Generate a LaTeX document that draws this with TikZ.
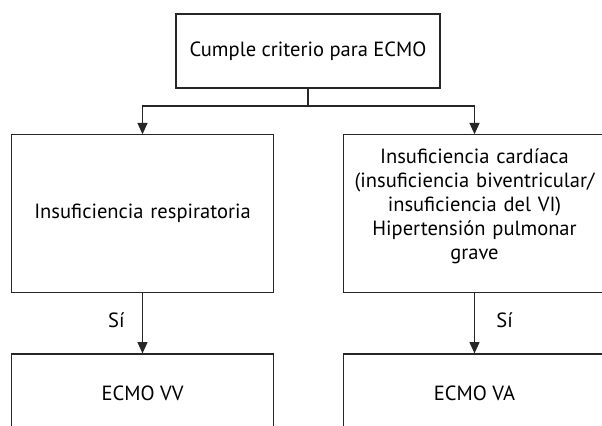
\documentclass[tikz,border=0pt]{standalone}
\usepackage{fontspec}
\setmainfont{PT Sans}
\usetikzlibrary{arrows.meta}
\begin{document}
\begin{tikzpicture}[x=0.75pt,y=-0.75pt,font=\fontsize{15.4pt}{18pt}\selectfont]
    \def\lx{142.5}
    \def\rx{474.5}
    \def\cx{308}

    \tikzstyle{box}=[draw=black!85,line width=0.9pt,inner sep=2pt,align=center]
    \tikzstyle{topbox}=[box,minimum width=198pt,minimum height=55.5pt]
    \tikzstyle{sidebox}=[box,text width=193pt,minimum width=197pt,minimum height=118pt]
    \tikzstyle{endbox}=[box,minimum width=197pt,minimum height=58.5pt]
    \tikzstyle{fwd}=[draw=black!85,line width=0.9pt]
    \tikzstyle{arr}=[fwd,-{Triangle[length=8.5pt,width=7.5pt]}]
    \tikzstyle{yes}=[inner sep=0pt]

    \useasboundingbox (0,0) rectangle (602,425);
    \clip (0,0) rectangle (602,425);

    \node[topbox] (crit) at (\cx,51) {Cumple criterio para ECMO};

    \node[sidebox] (resp) at (\lx,213.5) {Insuficiencia respiratoria};
    \node[sidebox] (card) at (\rx,213.5) {Insuficiencia cardíaca\\
        (insuficiencia biventricular/\\
        insuficiencia del VI)\\
        Hipertensión pulmonar\\
        grave\rule[-14pt]{0pt}{1pt}};

    \node[endbox] (vv) at (\lx,393) {ECMO VV};
    \node[endbox] (va) at (\rx,393) {ECMO VA};

    \coordinate (split) at (\cx,106);

    \draw [fwd] (crit) -- (split);
    \draw [arr] (split) -| (resp);
    \draw [arr] (split) -| (card);

    \draw [arr] (resp) -- node[yes,pos=0.45,left=13pt] {Sí} (vv);
    \draw [arr] (card) -- node[yes,pos=0.45,right=16pt] {Sí} (va);

\end{tikzpicture}
\end{document}
